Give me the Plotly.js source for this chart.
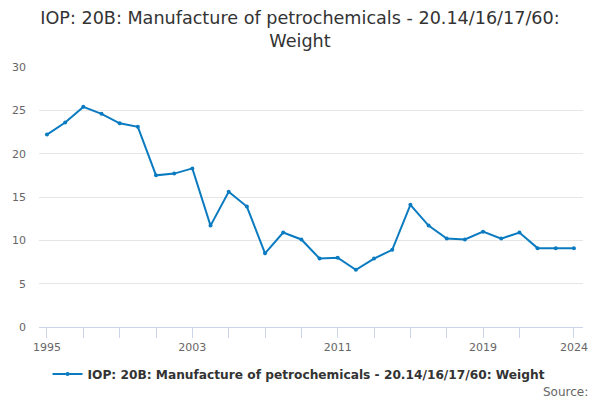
<!DOCTYPE html>
<html>
<head>
<meta charset="utf-8">
<script src="https://cdn.plot.ly/plotly-3.0.1.min.js"></script>
<style>
  html, body { margin: 0; padding: 0; background: #fff; }
  #chart { width: 600px; height: 400px; }
</style>
</head>
<body>
<div id="chart"></div>
<script>
const years = [1995, 1996, 1997, 1998, 1999, 2000, 2001, 2002, 2003, 2004,
               2005, 2006, 2007, 2008, 2009, 2010, 2011, 2012, 2013, 2014,
               2015, 2016, 2017, 2018, 2019, 2020, 2021, 2022, 2023, 2024];
const weight = [22.2, 23.6, 25.4, 24.6, 23.5, 23.1, 17.5, 17.7, 18.3, 11.7,
                15.6, 13.9, 8.5, 10.9, 10.1, 7.9, 8.0, 6.6, 7.9, 8.9,
                14.1, 11.7, 10.2, 10.1, 11.0, 10.2, 10.9, 9.1, 9.1, 9.1];

const tickYears = [1995, 1997, 1999, 2001, 2003, 2005, 2007, 2009, 2011, 2013,
                   2015, 2017, 2019, 2021, 2024];
const tickLabels = ['1995', '', '', '', '2003', '', '', '', '2011', '',
                    '', '', '2019', '', '2024'];

const seriesName = 'IOP: 20B: Manufacture of petrochemicals - 20.14/16/17/60: Weight';
const font = 'DejaVu Sans, sans-serif';

const data = [{
    x: years,
    y: weight,
    name: seriesName,
    type: 'scatter',
    mode: 'lines+markers',
    line: { color: '#0b7bc1', width: 2 },
    marker: { color: '#0b7bc1', size: 4 }
}];

const layout = {
    width: 600,
    height: 400,
    margin: { l: 39, r: 17, t: 67, b: 73, autoexpand: false },
    paper_bgcolor: '#fff',
    plot_bgcolor: '#fff',
    font: { family: font, color: '#666', size: 11 },
    title: {
        text: 'IOP: 20B: Manufacture of petrochemicals - 20.14/16/17/60:<br>Weight',
        font: { family: font, size: 17.6, color: '#333' },
        x: 0.5, xanchor: 'center',
        y: 0.94, yanchor: 'middle'
    },
    xaxis: {
        range: [1994.56, 2024.5],
        tickmode: 'array',
        tickvals: tickYears,
        ticktext: tickLabels,
        ticks: 'outside',
        ticklen: 10,
        tickcolor: '#ccd6eb',
        showline: true,
        linecolor: '#ccd6eb',
        linewidth: 1,
        showgrid: false,
        zeroline: false,
        tickfont: { family: font, size: 11, color: '#666' }
    },
    yaxis: {
        range: [0, 30],
        tickvals: [0, 5, 10, 15, 20, 25, 30],
        gridcolor: '#e6e6e6',
        zeroline: false,
        ticks: '',
        ticklabelstandoff: 12,
        tickfont: { family: font, size: 11, color: '#666' }
    },
    showlegend: true,
    legend: {
        orientation: 'h',
        x: 0.478, xanchor: 'center',
        yref: 'container',
        y: 0.065, yanchor: 'middle',
        font: { family: font, size: 12.2, color: '#333', weight: 'bold' },
        itemwidth: 30
    },
    annotations: [{
        text: 'Source:',
        xref: 'paper', yref: 'paper',
        x: 1.012, xanchor: 'right',
        y: -0.25, yanchor: 'middle',
        showarrow: false,
        font: { family: font, size: 12, color: '#666' }
    }]
};

Plotly.newPlot('chart', data, layout, { displayModeBar: false, staticPlot: true });
</script>
</body>
</html>
